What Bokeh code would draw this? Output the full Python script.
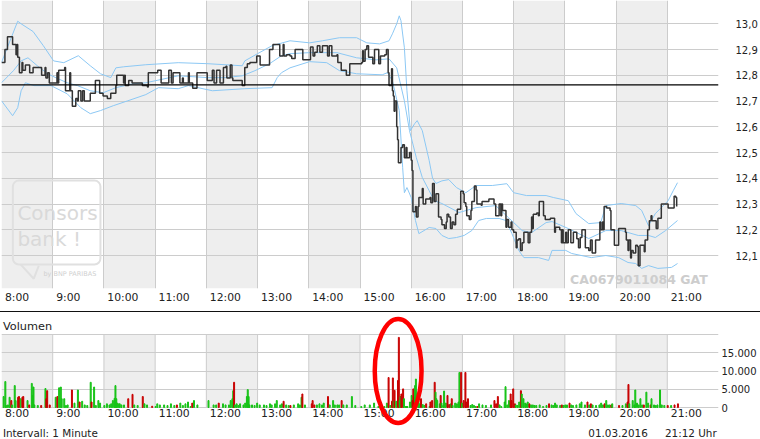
import numpy as np
from bokeh.plotting import figure
from bokeh.models import (ColumnDataSource, FixedTicker, Span, BoxAnnotation, Range1d, Div)
from bokeh.layouts import column
from bokeh.embed import file_html
from bokeh.resources import INLINE
from bokeh.core.properties import value

# ---------------- data ----------------
hour_labels = ["8:00", "9:00", "10:00", "11:00", "12:00", "13:00", "14:00", "15:00",
               "16:00", "17:00", "18:00", "19:00", "20:00", "21:00"]
price_ticks = [12.1, 12.2, 12.3, 12.4, 12.5, 12.6, 12.7, 12.8, 12.9, 13.0]
price_tick_labels = ["12,1", "12,2", "12,3", "12,4", "12,5", "12,6", "12,7", "12,8", "12,9", "13,0"]
vol_ticks = [0, 5000, 10000, 15000]
vol_tick_labels = ["0", "5.000", "10.000", "15.000"]
prev_close = 12.763

# price, minutes after 08:00 (1-minute interval, step line)
price_min = [0, 4, 7, 13, 17, 18, 19, 21, 24, 25, 28, 33, 37, 47, 51, 52, 54, 56, 65, 66,
             67, 74, 75, 80, 81, 83, 87, 89, 90, 93, 95, 97, 104, 110, 115, 119, 124, 128, 134, 135,
             143, 144, 145, 149, 153, 165, 171, 172, 183, 187, 196, 199, 201, 209, 212, 213, 219, 220, 224, 229,
             241, 247, 249, 252, 256, 260, 263, 264, 268, 270, 271, 282, 285, 288, 291, 299, 303, 314, 318, 326,
             330, 331, 334, 338, 340, 344, 353, 362, 365, 367, 370, 373, 376, 382, 384, 387, 393, 394, 398, 404,
             408, 422, 423, 424, 426, 428, 430, 435, 437, 442, 444, 449, 451, 453, 454, 457, 458, 459, 460, 461,
             463, 464, 465, 468, 470, 472, 474, 475, 478, 480, 481, 482, 485, 486, 488, 489, 493, 494, 497, 502,
             503, 505, 507, 509, 512, 515, 516, 519, 521, 522, 524, 526, 528, 530, 532, 534, 538, 541, 542, 544,
             545, 548, 550, 551, 554, 556, 557, 562, 563, 571, 577, 579, 583, 585, 586, 587, 591, 592, 594, 597,
             598, 600, 603, 604, 606, 608, 610, 612, 617, 619, 621, 622, 623, 627, 629, 630, 635, 637, 643, 648,
             649, 654, 656, 657, 658, 661, 662, 664, 667, 670, 674, 676, 678, 680, 684, 688, 690, 692, 696, 701,
             702, 704, 705, 706, 709, 713, 714, 718, 723, 731, 732, 734, 735, 737, 738, 740, 743, 745, 746, 748,
             753, 754, 757, 759, 761, 762, 767, 769, 773, 781, 788, 790, 791]
price_val = [12.85, 12.90, 12.95, 12.92, 12.88, 12.92, 12.87, 12.81, 12.85, 12.82, 12.84, 12.81, 12.83, 12.80, 12.83, 12.79, 12.81, 12.77, 12.81, 12.77,
             12.82, 12.83, 12.74, 12.81, 12.74, 12.68, 12.71, 12.70, 12.74, 12.70, 12.74, 12.70, 12.73, 12.78, 12.73, 12.72, 12.71, 12.73, 12.76, 12.80,
             12.77, 12.80, 12.76, 12.78, 12.77, 12.76, 12.755, 12.81, 12.82, 12.77, 12.82, 12.77, 12.81, 12.77, 12.79, 12.77, 12.81, 12.77, 12.75, 12.81,
             12.78, 12.82, 12.77, 12.82, 12.77, 12.83, 12.835, 12.79, 12.84, 12.79, 12.78, 12.76, 12.83, 12.845, 12.85, 12.875, 12.84, 12.90, 12.92, 12.875,
             12.92, 12.875, 12.88, 12.875, 12.865, 12.90, 12.86, 12.91, 12.875, 12.89, 12.915, 12.89, 12.915, 12.875, 12.915, 12.875, 12.88, 12.85, 12.82, 12.80,
             12.845, 12.85, 12.895, 12.855, 12.90, 12.915, 12.87, 12.845, 12.90, 12.845, 12.875, 12.88, 12.90, 12.81, 12.76, 12.825, 12.74, 12.72, 12.66, 12.70,
             12.60, 12.55, 12.46, 12.52, 12.53, 12.48, 12.52, 12.48, 12.50, 12.47, 12.43, 12.27, 12.29, 12.25, 12.29, 12.325, 12.36, 12.30, 12.32, 12.325,
             12.305, 12.38, 12.31, 12.34, 12.25, 12.24, 12.22, 12.205, 12.23, 12.26, 12.25, 12.205, 12.23, 12.22, 12.26, 12.28, 12.35, 12.34, 12.305, 12.29,
             12.255, 12.24, 12.275, 12.31, 12.37, 12.355, 12.30, 12.295, 12.31, 12.32, 12.30, 12.255, 12.30, 12.255, 12.30, 12.275, 12.21, 12.24, 12.21, 12.23,
             12.20, 12.19, 12.13, 12.16, 12.165, 12.12, 12.15, 12.19, 12.15, 12.19, 12.25, 12.205, 12.26, 12.265, 12.255, 12.31, 12.255, 12.24, 12.245, 12.19,
             12.21, 12.20, 12.15, 12.20, 12.15, 12.19, 12.15, 12.20, 12.15, 12.19, 12.165, 12.13, 12.17, 12.20, 12.13, 12.12, 12.16, 12.11, 12.16, 12.23,
             12.20, 12.23, 12.20, 12.29, 12.285, 12.275, 12.20, 12.14, 12.205, 12.19, 12.16, 12.12, 12.16, 12.09, 12.12, 12.11, 12.14, 12.135, 12.06, 12.14,
             12.115, 12.16, 12.20, 12.235, 12.255, 12.235, 12.205, 12.245, 12.30, 12.285, 12.33, 12.325, 12.29]

# Bollinger bands
upper_min = [0, 19, 23, 37, 49, 61, 73, 90, 104, 116, 128, 134, 143, 169, 207, 242, 282, 285, 300, 317,
             338, 361, 376, 396, 416, 428, 443, 454, 458, 463, 466, 468, 472, 475, 479, 484, 487, 493, 501, 505,
             509, 516, 524, 533, 544, 556, 575, 592, 600, 615, 638, 647, 664, 673, 688, 702, 708, 726, 743, 750,
             758, 766, 773, 781, 787, 792]
upper_val = [12.85, 13.01, 13.00, 12.97, 12.915, 12.856, 12.849, 12.876, 12.837, 12.806, 12.791, 12.829, 12.833, 12.841, 12.849, 12.845, 12.837, 12.856, 12.884, 12.915,
             12.934, 12.926, 12.934, 12.946, 12.946, 12.926, 12.922, 12.934, 12.961, 13.0, 13.031, 13.012, 12.907, 12.74, 12.585, 12.612, 12.624, 12.585, 12.47, 12.40,
             12.38, 12.39, 12.395, 12.364, 12.344, 12.372, 12.372, 12.379, 12.344, 12.333, 12.333, 12.325, 12.313, 12.263, 12.224, 12.228, 12.294, 12.302, 12.294, 12.275,
             12.216, 12.263, 12.286, 12.313, 12.352, 12.383]
middle_min = [0, 14, 23, 31, 42, 54, 66, 77, 89, 104, 119, 134, 154, 169, 207, 242, 262, 282, 297, 314,
              328, 338, 361, 393, 416, 439, 454, 463, 472, 478, 486, 493, 501, 507, 516, 536, 556, 579, 594, 610,
              621, 638, 645, 664, 688, 708, 726, 746, 758, 766, 778, 792]
middle_val = [12.771, 12.818, 12.856, 12.868, 12.837, 12.806, 12.787, 12.771, 12.760, 12.740, 12.732, 12.752, 12.767, 12.771, 12.798, 12.791, 12.791, 12.798, 12.818, 12.845,
              12.876, 12.884, 12.888, 12.888, 12.868, 12.860, 12.864, 12.829, 12.701, 12.585, 12.480, 12.403, 12.352, 12.313, 12.302, 12.267, 12.286, 12.294, 12.247, 12.197,
              12.189, 12.228, 12.232, 12.205, 12.166, 12.197, 12.197, 12.178, 12.178, 12.170, 12.197, 12.236]
lower_min = [0, 13, 19, 23, 28, 38, 58, 77, 93, 104, 116, 131, 148, 169, 184, 207, 219, 247, 285, 317,
             323, 328, 338, 361, 381, 396, 416, 446, 452, 458, 466, 470, 472, 475, 480, 485, 489, 501, 509, 516,
             524, 533, 542, 551, 559, 568, 583, 591, 598, 606, 612, 629, 641, 645, 661, 668, 691, 708, 723, 734,
             743, 750, 758, 769, 785, 792]
lower_val = [12.701, 12.643, 12.674, 12.740, 12.771, 12.760, 12.760, 12.728, 12.674, 12.651, 12.663, 12.682, 12.701, 12.725, 12.752, 12.748, 12.760, 12.740, 12.748, 12.752,
             12.791, 12.810, 12.829, 12.853, 12.849, 12.818, 12.806, 12.802, 12.810, 12.779, 12.663, 12.441, 12.344, 12.364, 12.325, 12.236, 12.185, 12.209, 12.205, 12.178,
             12.166, 12.170, 12.178, 12.197, 12.236, 12.244, 12.244, 12.236, 12.185, 12.120, 12.092, 12.092, 12.081, 12.120, 12.120, 12.108, 12.092, 12.100, 12.092, 12.073,
             12.069, 12.050, 12.061, 12.050, 12.054, 12.069]

# volume per minute (minutes after 08:00), 1 = up (green), 0 = down (red)
vol_min = [2, 4, 5, 7, 9, 11, 12, 15, 16, 19, 20, 22, 24, 25, 30, 32, 35, 36, 37, 38,
           42, 46, 51, 52, 53, 56, 63, 65, 67, 69, 70, 73, 75, 77, 82, 85, 89, 91, 94, 97,
           100, 104, 105, 108, 110, 113, 115, 120, 123, 126, 128, 130, 132, 133, 134, 135, 137, 138, 140, 143,
           148, 153, 155, 159, 165, 167, 170, 176, 180, 182, 185, 190, 194, 198, 202, 205, 209, 212, 215, 218,
           221, 223, 225, 229, 242, 248, 251, 254, 259, 262, 266, 268, 270, 271, 272, 273, 275, 277, 279, 283,
           285, 287, 288, 289, 290, 293, 296, 299, 302, 307, 310, 314, 316, 320, 322, 326, 328, 330, 333, 336,
           338, 342, 347, 349, 351, 352, 355, 363, 364, 366, 369, 372, 375, 377, 382, 384, 388, 390, 393, 395,
           398, 400, 404, 410, 414, 421, 425, 431, 436, 441, 448, 451, 453, 455, 457, 458, 459, 460, 462, 464,
           465, 466, 467, 468, 470, 471, 473, 474, 475, 478, 480, 481, 482, 483, 484, 485, 486, 488, 489, 491,
           493, 495, 497, 501, 502, 504, 507, 508, 509, 510, 513, 514, 515, 517, 518, 520, 522, 524, 526, 527,
           528, 531, 533, 535, 536, 537, 538, 539, 541, 543, 544, 546, 549, 551, 553, 555, 557, 559, 563, 567,
           573, 577, 579, 581, 583, 585, 589, 590, 592, 594, 596, 597, 599, 601, 602, 604, 606, 608, 609, 611,
           613, 614, 616, 618, 620, 622, 624, 626, 630, 634, 638, 641, 644, 646, 648, 650, 654, 656, 658, 660,
           662, 665, 667, 669, 673, 677, 679, 683, 686, 688, 690, 692, 696, 700, 702, 704, 706, 708, 710, 712,
           714, 715, 723, 727, 731, 733, 734, 735, 739, 741, 742, 744, 746, 748, 750, 752, 755, 757, 760, 761,
           764, 766, 768, 771, 773, 776, 780, 784, 788, 792]
vol_val = [3000, 7100, 550, 700, 2800, 1900, 700, 6000, 1900, 2800, 3000, 2400, 2800, 3000, 1900, 700, 6600, 3300, 5600, 700,
           550, 550, 5200, 2400, 4600, 700, 2800, 3000, 5400, 5600, 2400, 2400, 550, 700, 4800, 1200, 4800, 1500, 1700, 700,
           550, 6900, 1500, 5600, 550, 1900, 1200, 550, 1000, 700, 1000, 1900, 2500, 6000, 2400, 1200, 1000, 1000, 700, 700,
           2400, 3600, 700, 550, 3000, 1000, 700, 350, 270, 1000, 700, 700, 550, 1000, 550, 700, 1200, 550, 1000, 1500,
           270, 1200, 1900, 700, 1900, 700, 700, 1200, 1000, 700, 700, 1900, 2400, 4600, 6900, 700, 1000, 550, 1000, 700,
           1200, 3000, 4900, 3000, 700, 700, 550, 1200, 700, 700, 550, 1000, 700, 1000, 1900, 700, 1000, 1700, 700, 550,
           550, 700, 1000, 700, 2800, 3700, 700, 1000, 1900, 700, 700, 1000, 700, 1200, 3000, 700, 1900, 700, 700, 700,
           1900, 700, 700, 3000, 550, 270, 700, 700, 1200, 270, 270, 1200, 8200, 550, 1700, 8100, 1700, 4700, 1700, 7400,
           19200, 1900, 3000, 3700, 5100, 2400, 270, 270, 270, 1500, 3300, 1900, 5100, 2800, 6000, 7800, 3700, 1900, 1000, 2400,
           800, 550, 1000, 270, 1500, 1900, 6900, 4200, 2400, 1900, 1000, 3300, 1200, 550, 4500, 1200, 3300, 800, 1000, 2400,
           550, 1200, 1000, 1500, 9600, 1500, 9600, 1200, 1900, 9600, 1500, 2400, 550, 800, 550, 270, 270, 1000, 700, 550,
           700, 1900, 1000, 3000, 700, 270, 1500, 5700, 700, 1900, 3700, 1900, 5100, 1000, 700, 550, 1500, 4600, 3700, 2400,
           1200, 1000, 1500, 1000, 700, 700, 550, 550, 700, 270, 550, 1000, 700, 550, 1200, 700, 550, 700, 550, 700,
           700, 1200, 700, 550, 700, 1000, 1500, 700, 1500, 700, 1000, 700, 550, 700, 1200, 700, 1000, 1900, 700, 700,
           700, 1000, 550, 550, 1000, 1500, 6300, 1000, 1900, 700, 4800, 1200, 700, 2400, 700, 700, 4200, 1200, 700, 2400,
           700, 550, 700, 4800, 700, 550, 550, 550, 700, 1000]
vol_up = [1, 1, 1, 1, 1, 0, 1, 1, 1, 0, 0, 1, 0, 0, 1, 0, 1, 1, 1, 1,
          1, 0, 1, 0, 0, 0, 1, 0, 1, 1, 1, 1, 1, 1, 0, 1, 1, 0, 1, 1,
          1, 1, 0, 1, 1, 1, 1, 1, 1, 1, 1, 1, 1, 1, 1, 1, 1, 1, 1, 1,
          0, 0, 1, 1, 0, 1, 1, 0, 1, 1, 1, 1, 1, 1, 1, 0, 1, 1, 1, 1,
          1, 0, 1, 1, 1, 1, 1, 0, 1, 1, 1, 1, 1, 1, 0, 1, 1, 1, 1, 1,
          1, 1, 1, 1, 1, 1, 1, 1, 1, 1, 1, 1, 1, 1, 1, 1, 1, 0, 1, 1,
          0, 1, 1, 1, 1, 0, 1, 0, 0, 0, 1, 1, 1, 1, 0, 1, 1, 1, 1, 1,
          0, 1, 1, 1, 1, 1, 1, 1, 1, 1, 1, 1, 0, 1, 0, 0, 1, 0, 1, 0,
          0, 1, 1, 0, 0, 1, 1, 1, 1, 1, 1, 0, 0, 0, 1, 1, 1, 1, 1, 0,
          1, 1, 0, 1, 0, 0, 0, 1, 1, 1, 1, 0, 1, 1, 1, 1, 0, 0, 1, 0,
          1, 1, 1, 1, 1, 1, 0, 1, 0, 0, 0, 0, 1, 1, 1, 1, 0, 1, 1, 1,
          1, 0, 0, 0, 1, 1, 1, 1, 1, 1, 0, 0, 0, 0, 1, 1, 1, 0, 1, 1,
          1, 1, 1, 0, 1, 1, 1, 1, 1, 1, 1, 0, 1, 1, 1, 1, 1, 0, 1, 1,
          1, 0, 1, 1, 1, 1, 1, 1, 0, 1, 0, 1, 1, 1, 1, 1, 0, 1, 1, 1,
          0, 1, 0, 1, 1, 0, 0, 1, 1, 1, 1, 1, 1, 1, 1, 0, 1, 1, 0, 1,
          1, 1, 1, 1, 1, 1, 0, 1, 0, 0]

# ---------------- styling ----------------
FONT = "DejaVu Sans"
GRID = "#cccccc"
BAND = "#eeeeee"
BB = "#8cc8f4"
TXT = "#222222"
W = 760
H_TOP = 311
H_VOL = 127
PX_PER_HOUR = 720.2 / 14.0
XFS = 10.8  # hour label font size (px)

def hours(mins):
    return [8 + m / 60.0 for m in mins]

def label_width(s, fs):
    # DejaVu Sans advance widths (em): digits 0.636, colon 0.337
    return fs * sum(0.337 if c == ":" else 0.636 for c in s)

x_range = Range1d(8, 22)
hour_ticks = list(range(8, 22))
shade_start = hour_ticks[::2]
grid_hours = hour_ticks[1:]
lab_pad = 3.5 / PX_PER_HOUR  # labels start just right of the hour line

# ---------------- price chart ----------------
ylo, yhi = 11.972, 13.0905
p = figure(width=W, height=H_TOP, x_range=x_range, y_range=Range1d(ylo, yhi),
           output_backend="svg", toolbar_location=None, y_axis_location="right",
           min_border_left=1, min_border_right=39, min_border_top=0, min_border_bottom=23)
p.outline_line_color = None
p.xgrid.ticker = FixedTicker(ticks=grid_hours)
p.ygrid.ticker = FixedTicker(ticks=price_ticks)
p.grid.grid_line_color = GRID

# hour labels: centred label positions so each label starts just right of its hour line
lab_pos = [h + lab_pad + label_width(l, XFS) / 2 / PX_PER_HOUR for h, l in zip(hour_ticks, hour_labels)]
ax = p.xaxis[0]
ax.ticker = FixedTicker(ticks=lab_pos)
ax.major_label_overrides = {pos: l for pos, l in zip(lab_pos, hour_labels)}
ax.axis_line_color = None
ax.major_tick_line_color = None
ax.minor_tick_line_color = None
ax.major_tick_out = 0
ax.major_tick_in = 0
ax.major_label_text_font = FONT
ax.major_label_text_font_size = f"{XFS}px"
ax.major_label_text_color = TXT
ax.major_label_standoff = 2

ay = p.yaxis[0]
ay.ticker = FixedTicker(ticks=price_ticks)
ay.major_label_overrides = {t: l for t, l in zip(price_ticks, price_tick_labels)}
ay.axis_line_color = None
ay.major_tick_line_color = None
ay.minor_tick_line_color = None
ay.major_tick_out = 0
ay.major_tick_in = 0
ay.major_label_text_font = FONT
ay.major_label_text_font_size = "10px"
ay.major_label_text_color = TXT
ay.major_label_standoff = 17

p.quad(left=shade_start, right=[h + 1 for h in shade_start], bottom=ylo, top=yhi,
       fill_color=BAND, line_color=None, level="image")

# watermark (Consors bank)
p.add_layout(BoxAnnotation(left=8.222, right=9.932, bottom=12.065, top=12.391,
                           fill_alpha=0, line_color="#e0e0e0", line_width=2, line_alpha=1,
                           border_radius=6, level="underlay"))
p.line(x=[8.377, 8.630, 8.727], y=[12.065, 12.010, 12.060], line_color="#e0e0e0", line_width=2)
p.text(x=[8.31], y=[12.267], text=["Consors"], text_font=value(FONT), text_font_size="20px",
       text_color="#d9d9d9", text_baseline="middle")
p.text(x=[8.31], y=[12.166], text=["bank !"], text_font=value(FONT), text_font_size="20px",
       text_color="#d9d9d9", text_baseline="middle")
p.text(x=[8.82], y=[12.030], text=["by BNP PARIBAS"], text_font=value(FONT), text_font_size="6.5px",
       text_color="#d0d0d0", text_baseline="middle")
p.text(x=[21.79], y=[12.007], text=["CA0679011084 GAT"], text_font=value(FONT),
       text_font_size="12.5px", text_font_style="bold", text_color="#cdcdcd",
       text_align="right", text_baseline="middle")

p.line(hours(upper_min), upper_val, line_color=BB, line_width=1)
p.line(hours(middle_min), middle_val, line_color=BB, line_width=1)
p.line(hours(lower_min), lower_val, line_color=BB, line_width=1)
p.add_layout(Span(location=prev_close, dimension="width", line_color="black", line_width=1.3))
p.step(hours(price_min), price_val, mode="after", line_color="#333333", line_width=1.5)

# ---------------- separator ----------------
sep = Div(width=W, height=1, margin=(0, 0, 0, 0),
          styles={"background-color": "#111111", "padding": "0", "line-height": "0", "font-size": "0"})

# ---------------- volume chart ----------------
# frame covers the whole panel: volume 0 sits 32px above the bottom, 20.000 sits 22px below the top
vpp = 20000 / 73.0
vlo, vhi = -32 * vpp, 20000 + 22 * vpp
v = figure(width=W, height=H_VOL, x_range=x_range, y_range=Range1d(vlo, vhi),
           output_backend="svg", toolbar_location=None, y_axis_location="right",
           x_axis_location=None,
           min_border_left=1, min_border_right=39, min_border_top=0, min_border_bottom=0)
v.outline_line_color = None
v.xgrid.visible = False
v.ygrid.ticker = FixedTicker(ticks=vol_ticks + [20000])
v.ygrid.grid_line_color = GRID

avy = v.yaxis[0]
avy.ticker = FixedTicker(ticks=vol_ticks)
avy.major_label_overrides = {t: l for t, l in zip(vol_ticks, vol_tick_labels)}
avy.axis_line_color = None
avy.major_tick_line_color = None
avy.minor_tick_line_color = None
avy.major_tick_out = 0
avy.major_tick_in = 0
avy.major_label_text_font = FONT
avy.major_label_text_font_size = "10px"
avy.major_label_text_color = TXT
avy.major_label_standoff = 3
avy.major_label_text_align = "right"

v.quad(left=shade_start, right=[h + 1 for h in shade_start], bottom=0, top=20000,
       fill_color=BAND, line_color=None, level="image")
v.segment(x0=grid_hours, y0=0, x1=grid_hours, y1=20000, line_color=GRID, line_width=1, level="underlay")

src = ColumnDataSource(dict(
    x=[8 + (m + 0.5) / 60.0 for m in vol_min],
    top=vol_val,
    color=["#17c317" if u else "#c80000" for u in vol_up]))
v.vbar(x="x", top="top", bottom=0, width=1.15 / 60.0, color="color", source=src)

v.text(x=[8.027], y=[20000 + 8 * vpp], text=["Volumen"], text_font=value(FONT),
       text_font_size="11.3px", text_color=TXT, text_baseline="middle")
v.text(x=[h + lab_pad for h in hour_ticks], y=[-6 * vpp] * len(hour_ticks), text=hour_labels,
       text_font=value(FONT), text_font_size=f"{XFS}px", text_color=TXT, text_baseline="middle")
v.text(x=[8.027, 19.458, 20.955], y=[-25 * vpp] * 3,
       text=["Intervall: 1 Minute", "01.03.2016", "21:12 Uhr"], text_font=value(FONT),
       text_font_size="10.4px", text_color=TXT, text_baseline="middle")

# red highlight ellipse around the volume spike
v.ellipse(x=[15.745], y=[36.5 * vpp], width=[2 * 23.5 / PX_PER_HOUR], height=[2 * 52 * vpp],
          fill_color=None, line_color="#ff0000", line_width=4.5)

layout = column(p, sep, v, spacing=0)
open("out.html", "w").write(file_html(layout, INLINE))
